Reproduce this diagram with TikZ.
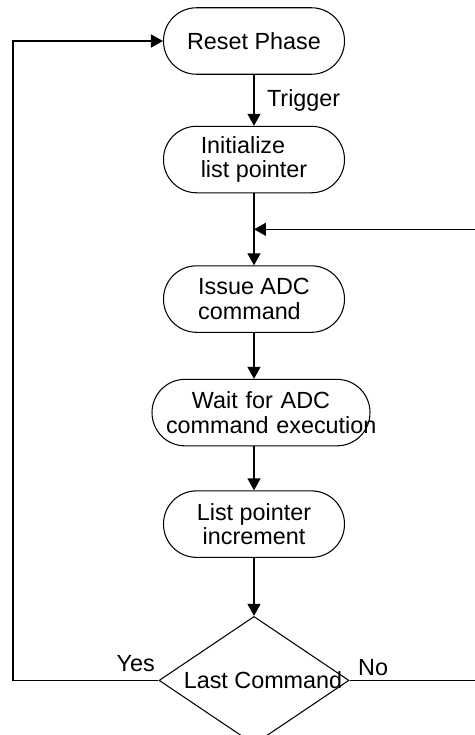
\documentclass[tikz,border=0pt]{standalone}
\usepackage{fontspec}
\setmainfont{Liberation Sans}
\usetikzlibrary{arrows.meta,positioning,shapes.geometric,calc}

\begin{document}
\begin{tikzpicture}[
  x=0.02cm, y=-0.02cm,
  font=\fontsize{13.3}{14}\selectfont,
  box/.style={rectangle, rounded corners=0.66cm, draw, line width=0.6pt, minimum width=3.62cm, minimum height=1.33cm, inner sep=0.1cm},
  decision/.style={diamond, draw, line width=0.6pt, minimum width=3.8cm, minimum height=2.56cm, inner sep=0pt},
  arrow/.style={-{Triangle[length=0.24cm,width=0.26cm]}, line width=0.8pt}
]
\useasboundingbox (0,0) rectangle (475,735);
\node[box, align=center] (reset) at (254,41) {Reset Phase};
\node[box, align=left, below=1.02cm of reset] (init) {Initialize\\list pointer};
\node[box, align=left, below=1.44cm of init] (issue) {Issue ADC\\command};
\node[box, text width=3.8cm, minimum width=4.36cm, inner xsep=0.28cm, align=center, below=0.92cm of issue, xshift=0.14cm] (wait) {Wait for ADC\\\mbox{command execution}};
\node[box, align=center, below=0.88cm of wait, xshift=-0.14cm] (list) {List pointer\\increment};
\node[decision, below=1.16cm of list] (last) {\makebox[0pt]{\hspace*{0.36cm}Last Command}};
% loop ends
\coordinate (loopL) at (13,0);
\coordinate (loopR) at (478,0);
\coordinate (merge) at ($(init.south)!0.5!(issue.north)$);
\draw[arrow] (reset) -- node[right, xshift=0.13cm] {Trigger} (init);
\draw[arrow] (init) -- (issue);
\draw[arrow] (issue) -- (issue |- wait.north);
\draw[arrow] (wait.south -| list) -- (list);
\draw[arrow] (list) -- (last);
\draw[arrow] (last.west) -- node[pos=0, anchor=south east, inner xsep=0.06cm, inner ysep=0.16cm] {Yes} (last.west -| loopL) |- (reset.west);
\draw[arrow] (last.east) -- node[pos=0, anchor=south west, inner xsep=0.16cm, inner ysep=0.08cm] {No} (last.east -| loopR) |- (merge);
\end{tikzpicture}
\end{document}
